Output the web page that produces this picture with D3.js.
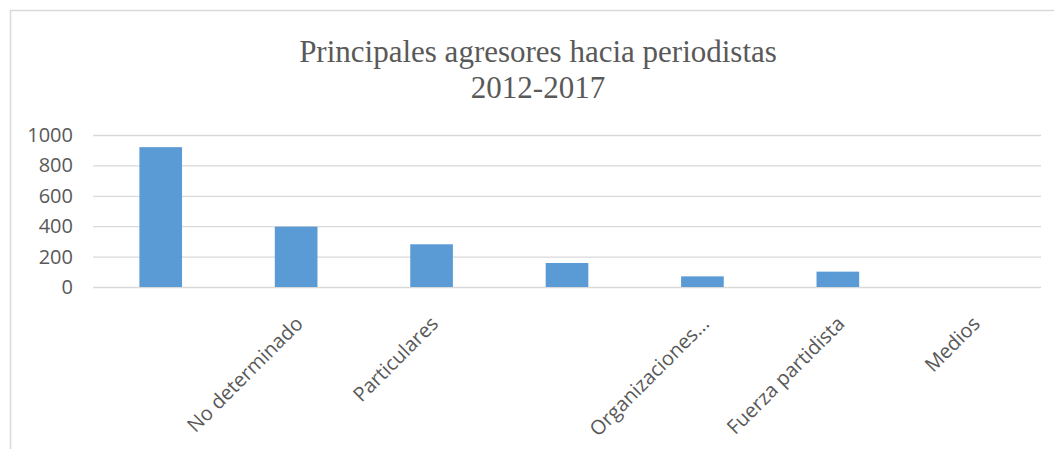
<!DOCTYPE html>
<html>
<head>
<meta charset="utf-8">
<script src="https://cdn.jsdelivr.net/npm/d3@7"></script>
<style>
  body { margin: 0; background: #fff; }
  svg { display: block; }
</style>
</head>
<body>
<svg id="chart"></svg>
<script>
// Data
const categories = ['', 'No determinado', 'Particulares', '', 'Organizaciones...', 'Fuerza partidista', 'Medios'];
const values = [920, 397, 281, 158, 70, 101, 0];
const yTicks = [0, 200, 400, 600, 800, 1000];
const titleLines = ['Principales agresores hacia periodistas', '2012-2017'];

const width = 1054, height = 449;
const margin = { top: 135, right: 13, bottom: 162, left: 93 };
const inner = { w: width - margin.left - margin.right, h: height - margin.top - margin.bottom };

const svg = d3.select('#chart')
    .attr('width', width)
    .attr('height', height);

// Chart frame
svg.append('rect')
    .attr('x', 10.5).attr('y', 10.5)
    .attr('width', 1200).attr('height', 600)
    .attr('fill', 'none')
    .attr('stroke', '#d9d9d9')
    .attr('stroke-width', 1.5);

// Title
svg.append('g')
    .selectAll('text')
    .data(titleLines)
    .join('text')
    .attr('x', 538)
    .attr('y', (d, i) => 62 + i * 36)
    .attr('text-anchor', 'middle')
    .style('font-family', '"Liberation Serif", serif')
    .style('font-size', '31px')
    .style('fill', '#595959')
    .text(d => d);

const g = svg.append('g')
    .attr('transform', `translate(${margin.left},${margin.top})`);

const x = d3.scaleBand()
    .domain(d3.range(categories.length))
    .range([0, inner.w])
    .paddingInner(0.685)
    .paddingOuter(0.3425);

const y = d3.scaleLinear()
    .domain([0, 1000])
    .range([inner.h, 0]);

// Grid lines
g.append('g')
    .call(d3.axisLeft(y).tickValues(yTicks).tickSize(-inner.w).tickFormat(''))
    .call(a => a.select('.domain').remove())
    .selectAll('line')
    .attr('stroke', '#d9d9d9')
    .attr('stroke-width', 1.3);

// Y axis labels
g.append('g')
    .call(d3.axisLeft(y).tickValues(yTicks).tickSize(0).tickPadding(20).tickFormat(d3.format('d')))
    .call(a => a.select('.domain').remove())
    .selectAll('text')
    .style('font-family', '"Open Sans", sans-serif')
    .style('font-size', '20px')
    .style('fill', '#595959');

// Bars
g.selectAll('rect.bar')
    .data(values)
    .join('rect')
    .attr('class', 'bar')
    .attr('x', (d, i) => x(i))
    .attr('y', d => y(d))
    .attr('width', x.bandwidth())
    .attr('height', d => inner.h - y(d))
    .attr('fill', '#5b9bd5');

// X axis labels, rotated
g.append('g')
    .attr('transform', `translate(0,${inner.h})`)
    .call(d3.axisBottom(x).tickSize(0).tickFormat(i => categories[i]))
    .call(a => a.select('.domain').remove())
    .selectAll('text')
    .style('font-family', '"Open Sans", sans-serif')
    .style('font-size', '20px')
    .style('fill', '#595959')
    .attr('text-anchor', 'end')
    .attr('dy', 0)
    .attr('y', 0)
    .attr('transform', 'translate(8,38) rotate(-45)');
</script>
</body>
</html>
